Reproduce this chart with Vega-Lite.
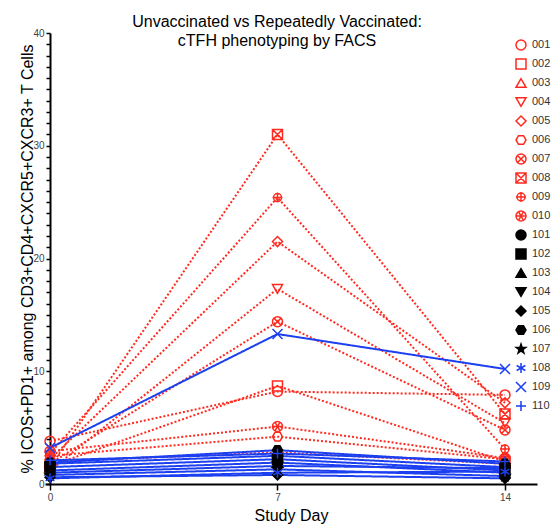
{
  "$schema": "https://vega.github.io/schema/vega-lite/v6.json",
  "width": 492,
  "height": 451,
  "autosize": {"type": "none"},
  "padding": {"left": 45, "top": 33, "right": 17, "bottom": 43},
  "background": "white",
  "title": {
    "text": ["Unvaccinated vs Repeatedly Vaccinated:", "cTFH phenotyping by FACS"],
    "font": "Liberation Sans", "fontSize": 16, "fontWeight": "normal", "lineHeight": 19,
    "color": "black", "anchor": "middle", "offset": -21, "dx": -14
  },
  "config": {
    "view": {"stroke": null},
    "axis": {
      "grid": false, "domainColor": "black", "domainWidth": 2, "tickColor": "black", "tickWidth": 1.5,
      "labelFont": "Liberation Sans", "labelFontSize": 10, "labelColor": "#444",
      "titleFont": "Liberation Sans", "titleFontSize": 16, "titleFontWeight": "normal", "titleColor": "black"
    },
    "legend": {
      "labelFont": "Liberation Sans", "labelFontSize": 11, "labelColor": "#333",
      "symbolStrokeWidth": 1.5, "symbolSize": 100, "rowPadding": 3, "labelOffset": 5, "padding": 0
    }
  },
  "data": {"values": [
    {"id": "001", "grp": "Unvaccinated", "day": 0, "value": 3.8},
    {"id": "001", "grp": "Unvaccinated", "day": 7, "value": 8.2},
    {"id": "001", "grp": "Unvaccinated", "day": 14, "value": 7.9},
    {"id": "002", "grp": "Unvaccinated", "day": 0, "value": 1.6},
    {"id": "002", "grp": "Unvaccinated", "day": 7, "value": 8.7},
    {"id": "002", "grp": "Unvaccinated", "day": 14, "value": 2.0},
    {"id": "003", "grp": "Unvaccinated", "day": 0, "value": 2.0},
    {"id": "003", "grp": "Unvaccinated", "day": 7, "value": 2.8},
    {"id": "003", "grp": "Unvaccinated", "day": 14, "value": 1.8},
    {"id": "004", "grp": "Unvaccinated", "day": 0, "value": 1.2},
    {"id": "004", "grp": "Unvaccinated", "day": 7, "value": 17.3},
    {"id": "004", "grp": "Unvaccinated", "day": 14, "value": 5.4},
    {"id": "005", "grp": "Unvaccinated", "day": 0, "value": 2.2},
    {"id": "005", "grp": "Unvaccinated", "day": 7, "value": 21.5},
    {"id": "005", "grp": "Unvaccinated", "day": 14, "value": 7.2},
    {"id": "006", "grp": "Unvaccinated", "day": 0, "value": 2.5},
    {"id": "006", "grp": "Unvaccinated", "day": 7, "value": 4.2},
    {"id": "006", "grp": "Unvaccinated", "day": 14, "value": 2.2},
    {"id": "007", "grp": "Unvaccinated", "day": 0, "value": 1.8},
    {"id": "007", "grp": "Unvaccinated", "day": 7, "value": 14.4},
    {"id": "007", "grp": "Unvaccinated", "day": 14, "value": 4.8},
    {"id": "008", "grp": "Unvaccinated", "day": 0, "value": 1.5},
    {"id": "008", "grp": "Unvaccinated", "day": 7, "value": 31.0},
    {"id": "008", "grp": "Unvaccinated", "day": 14, "value": 6.2},
    {"id": "009", "grp": "Unvaccinated", "day": 0, "value": 2.7},
    {"id": "009", "grp": "Unvaccinated", "day": 7, "value": 25.4},
    {"id": "009", "grp": "Unvaccinated", "day": 14, "value": 3.1},
    {"id": "010", "grp": "Unvaccinated", "day": 0, "value": 2.9},
    {"id": "010", "grp": "Unvaccinated", "day": 7, "value": 5.1},
    {"id": "010", "grp": "Unvaccinated", "day": 14, "value": 2.3},
    {"id": "101", "grp": "Repeatedly Vaccinated", "day": 0, "value": 1.8},
    {"id": "101", "grp": "Repeatedly Vaccinated", "day": 7, "value": 2.5},
    {"id": "101", "grp": "Repeatedly Vaccinated", "day": 14, "value": 1.5},
    {"id": "102", "grp": "Repeatedly Vaccinated", "day": 0, "value": 1.5},
    {"id": "102", "grp": "Repeatedly Vaccinated", "day": 7, "value": 2.2},
    {"id": "102", "grp": "Repeatedly Vaccinated", "day": 14, "value": 1.2},
    {"id": "103", "grp": "Repeatedly Vaccinated", "day": 0, "value": 1.2},
    {"id": "103", "grp": "Repeatedly Vaccinated", "day": 7, "value": 1.9},
    {"id": "103", "grp": "Repeatedly Vaccinated", "day": 14, "value": 1.0},
    {"id": "104", "grp": "Repeatedly Vaccinated", "day": 0, "value": 1.0},
    {"id": "104", "grp": "Repeatedly Vaccinated", "day": 7, "value": 1.6},
    {"id": "104", "grp": "Repeatedly Vaccinated", "day": 14, "value": 1.4},
    {"id": "105", "grp": "Repeatedly Vaccinated", "day": 0, "value": 0.6},
    {"id": "105", "grp": "Repeatedly Vaccinated", "day": 7, "value": 0.8},
    {"id": "105", "grp": "Repeatedly Vaccinated", "day": 14, "value": 0.5},
    {"id": "106", "grp": "Repeatedly Vaccinated", "day": 0, "value": 1.9},
    {"id": "106", "grp": "Repeatedly Vaccinated", "day": 7, "value": 3.0},
    {"id": "106", "grp": "Repeatedly Vaccinated", "day": 14, "value": 1.8},
    {"id": "107", "grp": "Repeatedly Vaccinated", "day": 0, "value": 0.8},
    {"id": "107", "grp": "Repeatedly Vaccinated", "day": 7, "value": 1.3},
    {"id": "107", "grp": "Repeatedly Vaccinated", "day": 14, "value": 0.7},
    {"id": "108", "grp": "Repeatedly Vaccinated", "day": 0, "value": 0.5},
    {"id": "108", "grp": "Repeatedly Vaccinated", "day": 7, "value": 1.0},
    {"id": "108", "grp": "Repeatedly Vaccinated", "day": 14, "value": 1.1},
    {"id": "109", "grp": "Repeatedly Vaccinated", "day": 0, "value": 3.2},
    {"id": "109", "grp": "Repeatedly Vaccinated", "day": 7, "value": 13.3},
    {"id": "109", "grp": "Repeatedly Vaccinated", "day": 14, "value": 10.2},
    {"id": "110", "grp": "Repeatedly Vaccinated", "day": 0, "value": 2.1},
    {"id": "110", "grp": "Repeatedly Vaccinated", "day": 7, "value": 2.7},
    {"id": "110", "grp": "Repeatedly Vaccinated", "day": 14, "value": 2.0}
  ]},
  "encoding": {
    "x": {
      "field": "day", "type": "quantitative",
      "scale": {"domain": [-0.154, 14.985], "nice": false, "zero": false},
      "axis": {"values": [0, 7, 14], "tickSize": 6, "labelPadding": 2, "title": "Study Day", "titlePadding": 5}
    },
    "y": {
      "field": "value", "type": "quantitative",
      "scale": {"domain": [0, 40], "nice": false},
      "axis": {
        "values": [0,1,2,3,4,5,6,7,8,9,10,11,12,13,14,15,16,17,18,19,20,21,22,23,24,25,26,27,28,29,30,31,32,33,34,35,36,37,38,39,40],
        "labelExpr": "datum.value % 10 === 0 ? datum.label : ''",
        "tickSize": 4, "labelPadding": 2, "offset": -5,
        "title": "% ICOS+PD1+ among CD3+CD4+CXCR5+CXCR3+ T Cells", "titlePadding": -3
      }
    }
  },
  "layer": [
    {
      "mark": {"type": "line", "strokeWidth": 2},
      "encoding": {
        "detail": {"field": "id"},
        "color": {"field": "grp", "type": "nominal", "scale": {"domain": ["Unvaccinated", "Repeatedly Vaccinated"], "range": ["#ff2a1f", "#1c3ff0"]}, "legend": null},
        "strokeDash": {"field": "grp", "type": "nominal", "scale": {"domain": ["Unvaccinated", "Repeatedly Vaccinated"], "range": [[2, 2], [1, 0]]}, "legend": null}
      }
    },
    {
      "mark": {"type": "point", "size": 100, "strokeWidth": 1.5, "opacity": 1},
      "encoding": {
        "shape": {
          "field": "id", "type": "nominal",
          "scale": {
            "domain": ["001","002","003","004","005","006","007","008","009","010","101","102","103","104","105","106","107","108","109","110"],
            "range": [
              "circle", "square", "triangle-up", "triangle-down", "diamond",
              "M-1,0L-0.5,-0.866L0.5,-0.866L1,0L0.5,0.866L-0.5,0.866Z",
              "M-1,0A1,1,0,1,1,1,0A1,1,0,1,1,-1,0Z M-0.707,-0.707L0.707,0.707M-0.707,0.707L0.707,-0.707",
              "M-1,-1H1V1H-1Z M-1,-1L1,1M-1,1L1,-1",
              "M-0.8,0A0.8,0.8,0,1,1,0.8,0A0.8,0.8,0,1,1,-0.8,0Z M0,-1V1M-1,0H1",
              "M-1,0A1,1,0,1,1,1,0A1,1,0,1,1,-1,0Z M-1,0H1M-0.5,-0.866L0.5,0.866M-0.5,0.866L0.5,-0.866",
              "circle", "square", "triangle-up", "triangle-down", "diamond",
              "M-1,0L-0.5,-0.866L0.5,-0.866L1,0L0.5,0.866L-0.5,0.866Z",
              "M0,-1L0.235,-0.324L0.951,-0.309L0.38,0.124L0.588,0.809L0,0.4L-0.588,0.809L-0.38,0.124L-0.951,-0.309L-0.235,-0.324Z",
              "M0,-1V1M-0.866,-0.5L0.866,0.5M-0.866,0.5L0.866,-0.5",
              "M-1,-1L1,1M-1,1L1,-1",
              "M-1,0H1M0,-1V1"
            ]
          },
          "legend": {"title": null, "orient": "none", "legendX": 470, "legendY": 6}
        },
        "stroke": {
          "field": "id", "type": "nominal",
          "scale": {
            "domain": ["001","002","003","004","005","006","007","008","009","010","101","102","103","104","105","106","107","108","109","110"],
            "range": ["#ff2a1f","#ff2a1f","#ff2a1f","#ff2a1f","#ff2a1f","#ff2a1f","#ff2a1f","#ff2a1f","#ff2a1f","#ff2a1f","black","black","black","black","black","black","black","#1c3ff0","#1c3ff0","#1c3ff0"]
          },
          "legend": {"title": null, "orient": "none", "legendX": 470, "legendY": 6}
        },
        "fill": {
          "field": "id", "type": "nominal",
          "scale": {
            "domain": ["001","002","003","004","005","006","007","008","009","010","101","102","103","104","105","106","107","108","109","110"],
            "range": ["transparent","transparent","transparent","transparent","transparent","transparent","transparent","transparent","transparent","transparent","black","black","black","black","black","black","black","transparent","transparent","transparent"]
          },
          "legend": {"title": null, "orient": "none", "legendX": 470, "legendY": 6}
        }
      }
    }
  ]
}
